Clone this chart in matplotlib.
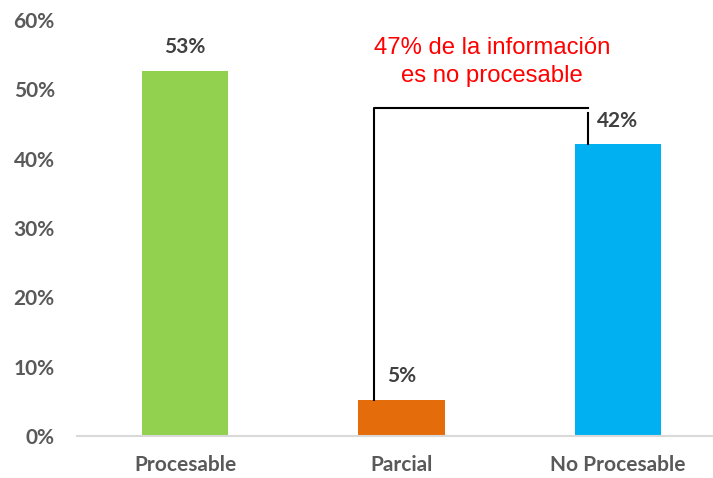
import matplotlib
matplotlib.use("Agg")
from matplotlib import pyplot as plt

categories = ["Procesable", "Parcial", "No Procesable"]
values = [52.7, 5.2, 42.1]
labels = ["53%", "5%", "42%"]
colors = ["#92d050", "#e46c0a", "#00b0f0"]
yticks = [0, 10, 20, 30, 40, 50, 60]
note = "47% de la información\nes no procesable"
bracket_y = values[1] + values[2]

fig = plt.figure(figsize=(7.13, 4.78), dpi=100)
ax = fig.add_axes([0.108, 0.088, 0.892, 0.870])

x = list(range(len(categories)))
ax.bar(x, values, width=0.4, color=colors, zorder=2)

for i, v in enumerate(values):
    ax.text(i, v + 3.4, labels[i], ha="center", va="center",
            fontsize=15, fontweight="bold", color="#404040", family="Lato")

# bracket linking Parcial and No Procesable
ax.plot([0.873, 0.873, 1.861], [values[1], bracket_y, bracket_y], color="black", lw=1.5, zorder=3)
ax.plot([1.861, 1.861], [bracket_y - 0.7, values[2]], color="black", lw=1.5, zorder=3)
ax.text(1.42, 54.0, note, ha="center", va="center", fontsize=17.2,
        color="red", family="Liberation Sans", linespacing=1.35)

ax.set_xlim(-0.5, 2.44)
ax.set_ylim(0, 60)
ax.set_yticks(yticks)
ax.set_yticklabels([f"{t}%" for t in yticks])
ax.set_xticks(x)
ax.set_xticklabels(categories)
for lab in ax.get_xticklabels() + ax.get_yticklabels():
    lab.set_family("Lato")
    lab.set_fontweight("bold")
    lab.set_fontsize(15)
    lab.set_color("#595959")
ax.tick_params(axis="x", length=0, pad=14)
ax.tick_params(axis="y", length=0, pad=16)
for s in ["top", "right", "left"]:
    ax.spines[s].set_visible(False)
ax.spines["bottom"].set_color("#d9d9d9")
ax.spines["bottom"].set_linewidth(1.5)

fig.savefig("out.png", dpi=100)
